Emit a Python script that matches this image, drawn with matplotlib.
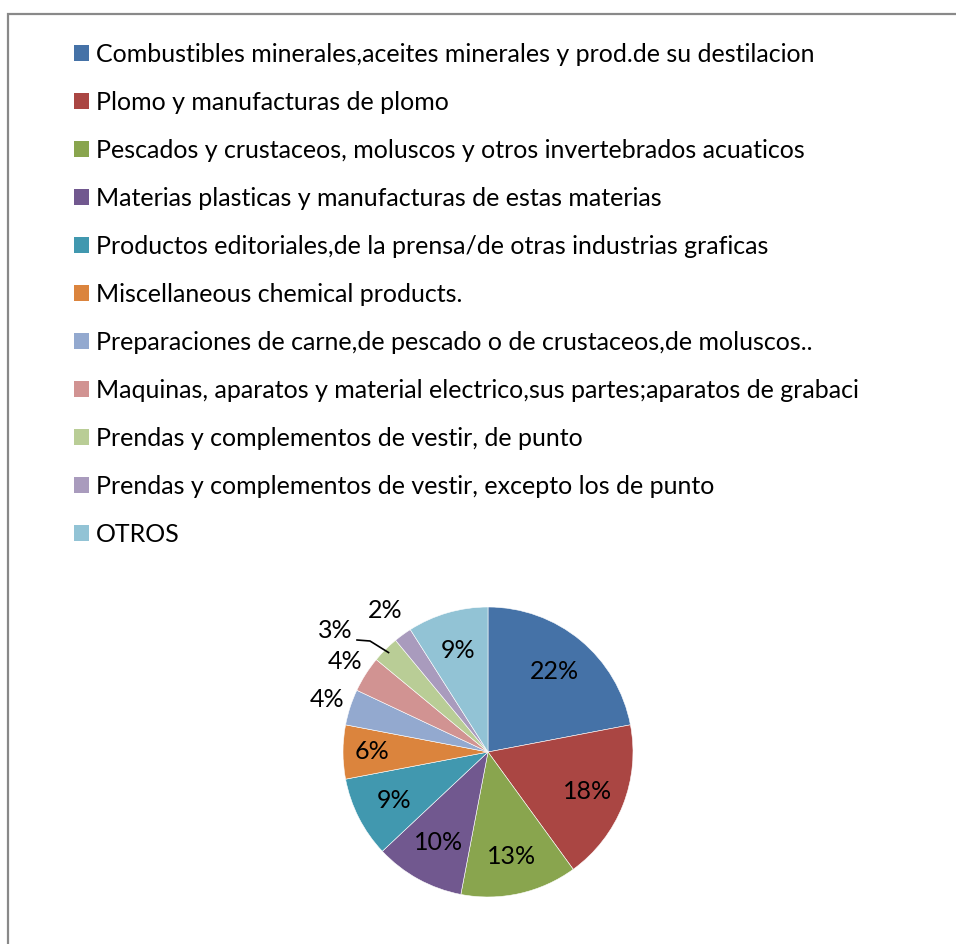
import numpy as np
import matplotlib
matplotlib.use("Agg")
import matplotlib.pyplot as plt
from matplotlib.patches import Rectangle

plt.rcParams['font.family'] = ['Lato', 'DejaVu Sans']

# categories (legend order = slice order, clockwise from 12 o'clock)
categorias = [
    "Combustibles minerales,aceites minerales y prod.de su destilacion",
    "Plomo y manufacturas de plomo",
    "Pescados y crustaceos, moluscos y otros invertebrados acuaticos",
    "Materias plasticas y manufacturas de estas materias",
    "Productos editoriales,de la prensa/de otras industrias graficas",
    "Miscellaneous chemical products.",
    "Preparaciones de carne,de pescado o de crustaceos,de moluscos..",
    "Maquinas, aparatos y material electrico,sus partes;aparatos de grabaci",
    "Prendas y complementos de vestir, de punto",
    "Prendas y complementos de vestir, excepto los de punto",
    "OTROS",
]
porcentajes = [22, 18, 13, 10, 9, 6, 4, 4, 3, 2, 9]
colores = ["#4572A7", "#AA4643", "#89A54E", "#71588F", "#4198AF", "#DB843D",
           "#93A9CF", "#D19392", "#B9CD96", "#A99BBD", "#92C3D5"]

W, H = 956, 944
fig = plt.figure(figsize=(W / 100, H / 100), dpi=100)
# one axes in pixel units (y up)
ax = fig.add_axes([0, 0, 1, 1])

# chart border (right/bottom edges fall outside the picture)
ax.add_patch(Rectangle((8.5, -20), W + 20, H - 13.5 + 20, fill=False,
                       edgecolor="#898989", linewidth=1.6))

cx, cy, r = 488, H - 752, 145
wedges, _ = ax.pie(porcentajes, colors=colores, startangle=90, counterclock=False,
                   center=(cx, cy), radius=r, frame=True,
                   wedgeprops=dict(edgecolor="white", linewidth=0.4))
ax.set_xlim(0, W)
ax.set_ylim(0, H)
ax.set_aspect('equal')
ax.axis('off')

fs = 18
# label distance (fraction of radius); None = outside with leader line
dist = [0.72, 0.74, 0.74, 0.71, 0.73, 0.80, 1.17, 1.17, None, 1.21, 0.73]
for w, p, d in zip(wedges, porcentajes, dist):
    th = np.deg2rad((w.theta1 + w.theta2) / 2)
    txt = "%d%%" % p
    if d is None:
        ex, ey = cx + 0.97 * r * np.cos(th), cy + 0.97 * r * np.sin(th)
        lx, ly = cx - 153, cy + 121
        ax.text(lx, ly, txt, ha='center', va='center', fontsize=fs)
        ax.plot([lx + 22, lx + 35, ex], [ly - 9, ly - 10, ey],
                color='black', linewidth=1.2)
        continue
    ax.text(cx + d * r * np.cos(th), cy + d * r * np.sin(th), txt,
            ha='center', va='center', fontsize=fs)

leg = ax.legend(wedges, categorias, loc='upper left',
                bbox_to_anchor=(74 / W, 1 - 43 / H), bbox_transform=fig.transFigure,
                frameon=False, fontsize=fs, borderpad=0, borderaxespad=0,
                handlelength=0.58, handleheight=0.58, handletextpad=0.3,
                labelspacing=1.0)
for h in leg.legend_handles:
    h.set_edgecolor('none')

fig.savefig("out.png", dpi=100)
